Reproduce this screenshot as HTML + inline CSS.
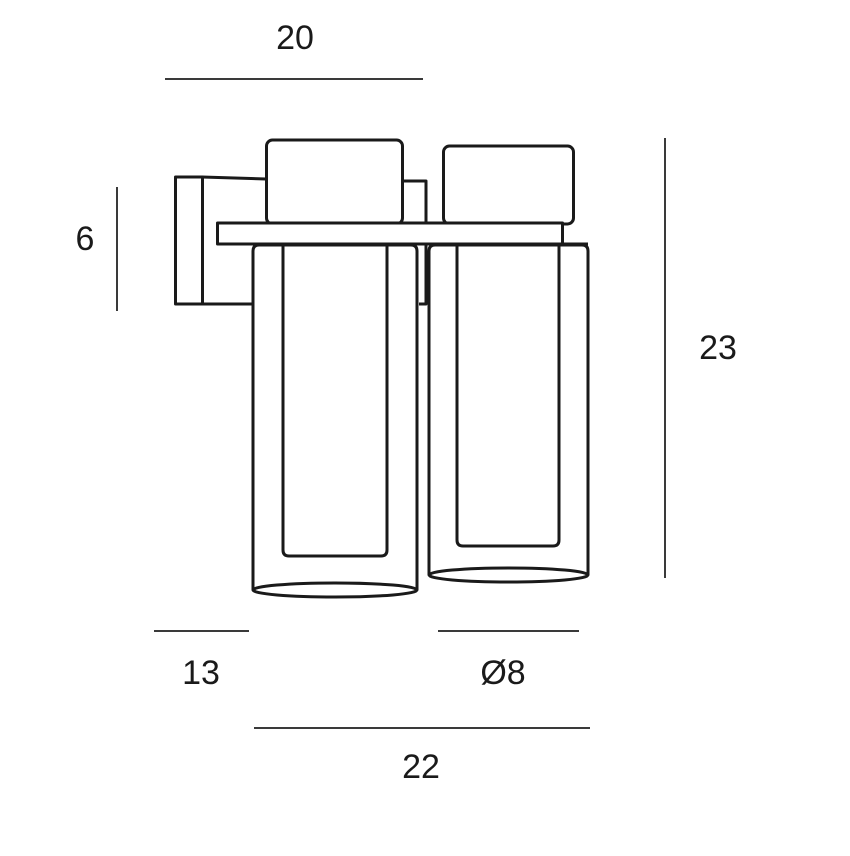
<!DOCTYPE html>
<html><head><meta charset="utf-8"><style>
html,body{margin:0;padding:0;background:#fff;}
svg{display:block;}
text{font-family:"Liberation Sans",sans-serif;font-size:34px;fill:#1a1a1a;text-anchor:middle;}
</style></head><body>
<svg width="850" height="856" viewBox="0 0 850 856" xmlns="http://www.w3.org/2000/svg">
<g stroke="#3a3a3a" stroke-width="2">
<line x1="165" y1="79" x2="423" y2="79"/>
<line x1="117" y1="187" x2="117" y2="311"/>
<line x1="665" y1="138" x2="665" y2="578"/>
<line x1="154" y1="631" x2="249" y2="631"/>
<line x1="438" y1="631" x2="579" y2="631"/>
<line x1="254" y1="728" x2="590" y2="728"/>
</g>
<text x="295" y="49">20</text>
<text x="85" y="250">6</text>
<text x="718" y="359">23</text>
<text x="201" y="684">13</text>
<text x="503" y="684">Ø8</text>
<text x="421" y="778">22</text>
<g fill="#fff" stroke="#1a1a1a" stroke-width="3" stroke-linejoin="round">
<rect x="175.5" y="177" width="27" height="127"/>
<polyline points="202,177 266,179" fill="none"/>
<line x1="202" y1="304" x2="253" y2="304"/>
<polyline points="403,181 426,181 426,304 419,304" fill="none"/>
<rect x="266.5" y="140" width="136" height="84" rx="6"/>
<rect x="443.5" y="146" width="130" height="78" rx="6"/>
<rect x="217.5" y="223" width="345" height="21"/>
<path d="M253,590 L253,251 Q253,245 259,245 L411,245 Q417,245 417,251 L417,590" fill="none"/>
<path d="M283,245 L283,550 Q283,556 289,556 L381,556 Q387,556 387,550 L387,245" fill="none"/>
<ellipse cx="335" cy="590" rx="82" ry="7" fill="none"/>
<path d="M429,575 L429,251 Q429,245 435,245 L582,245 Q588,245 588,251 L588,575" fill="none"/>
<line x1="562" y1="244" x2="588" y2="244"/>
<path d="M457,245 L457,540 Q457,546 463,546 L553,546 Q559,546 559,540 L559,245" fill="none"/>
<ellipse cx="508.5" cy="575" rx="79.5" ry="7" fill="none"/>
</g>
</svg>
</body></html>
